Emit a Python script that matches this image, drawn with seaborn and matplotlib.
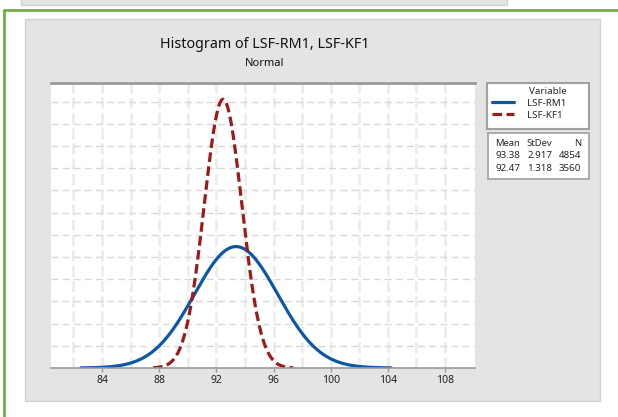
import numpy as np
import pandas as pd
import seaborn as sns
import matplotlib.pyplot as plt
from matplotlib.patches import Rectangle
from matplotlib.lines import Line2D

# Summary statistics shown in the chart
variables = ['LSF-RM1', 'LSF-KF1']
means = [93.38, 92.47]
stdevs = [2.917, 1.318]
counts = [4854, 3560]
colors = {'LSF-RM1': '#0c58a6', 'LSF-KF1': '#9b1a1a'}
xticks = [84, 88, 92, 96, 100, 104, 108]

# Fitted normal curves (Minitab draws about mean +/- 3.72 sd)
frames = []
for name, m, s in zip(variables, means, stdevs):
    xs = np.linspace(m - 3.72 * s, m + 3.72 * s, 400)
    dens = np.exp(-0.5 * ((xs - m) / s) ** 2) / (s * np.sqrt(2 * np.pi))
    frames.append(pd.DataFrame({'x': xs, 'density': dens, 'Variable': name}))
df = pd.concat(frames, ignore_index=True)

sns.set_theme(style='white')
plt.rcParams['font.family'] = ['Noto Sans', 'DejaVu Sans']

fig = plt.figure(figsize=(6.18, 4.17), dpi=100)
fig.patch.set_facecolor('white')

# document frame / panel background
W, H = 618, 417
fig.add_artist(Rectangle((21 / W, 1 - 5 / H), 486 / W, 0.05, transform=fig.transFigure,
                         facecolor='#e4e4e4', edgecolor='#d0d0d0', lw=1, zorder=-2))
fig.add_artist(Rectangle((25 / W, 1 - 401 / H), 575 / W, 382 / H, transform=fig.transFigure,
                         facecolor='#e4e4e4', edgecolor='#d2d2d2', lw=1, zorder=-2))
fig.add_artist(Line2D([4 / W, 1], [1 - 9.5 / H, 1 - 9.5 / H], transform=fig.transFigure,
                      color='#70ad47', lw=2, zorder=5))
fig.add_artist(Line2D([4 / W, 4 / W], [0, 1 - 9.5 / H], transform=fig.transFigure,
                      color='#70ad47', lw=2, zorder=5))

ax = fig.add_axes([51 / W, 1 - 368 / H, 424 / W, 285 / H])
ax.set_facecolor('white')

sns.lineplot(data=df, x='x', y='density', hue='Variable', style='Variable',
             palette=colors, dashes={'LSF-RM1': '', 'LSF-KF1': (3, 1.4)},
             estimator=None, sort=False, linewidth=2.3, ax=ax)

ax.set_xlim(80.43, 110.1)
ax.set_ylim(0, 0.321)
ax.set_xticks(xticks)
ax.set_xticks(np.arange(82, 110, 2), minor=True)
ax.set_yticks(np.arange(0.025, 0.301, 0.025))
ax.tick_params(axis='y', left=False, labelleft=False)
ax.tick_params(axis='x', which='major', bottom=True, length=3, width=1, color='#999999',
               labelsize=7.5, pad=2, labelcolor='#222222')
ax.tick_params(axis='x', which='minor', bottom=False)
ax.grid(axis='y', color='#d9d9d9', lw=1, ls=(0, (5, 3)))
ax.grid(axis='x', which='both', color='#ededed', lw=2, ls=(0, (4, 1.5)))
ax.set_axisbelow(True)
ax.set_xlabel('')
ax.set_ylabel('')
for side in ['left', 'right']:
    ax.spines[side].set_visible(False)
ax.spines['top'].set_color('#9a9a9a')
ax.spines['top'].set_linewidth(2)
ax.spines['bottom'].set_color('#9a9a9a')
ax.spines['bottom'].set_linewidth(1.2)

# titles
fig.text(265 / W, 1 - 44 / H, 'Histogram of LSF-RM1, LSF-KF1', ha='center', va='center',
         fontsize=10.3, color='#111111', fontweight='medium')
fig.text(265 / W, 1 - 64 / H, 'Normal', ha='center', va='center', fontsize=8,
         color='#111111', fontweight='medium')

# legend
handles, labels = ax.get_legend_handles_labels()
ax.get_legend().remove()
fig.add_artist(Rectangle((487 / W, 1 - 129 / H), 102 / W, 46 / H, transform=fig.transFigure,
                         facecolor='white', edgecolor='#a0a0a0', lw=1.5, zorder=3))
leg = fig.legend(handles, labels, title='Variable', loc='upper left',
                 bbox_to_anchor=(490 / W, 1 - 85 / H), frameon=False, fontsize=7,
                 title_fontsize=7, handlelength=2.3, handletextpad=1.3,
                 labelspacing=0.3, borderpad=0.2, borderaxespad=0, alignment='right')
leg.set_zorder(4)

# statistics table
fig.add_artist(Rectangle((488 / W, 1 - 179 / H), 101 / W, 46 / H, transform=fig.transFigure,
                         facecolor='white', edgecolor='#a0a0a0', lw=1.2, zorder=3))
col_x = [520 / W, 552 / W, 581 / W]
row_y = [1 - 143 / H, 1 - 156 / H, 1 - 169 / H]
for cx, head in zip(col_x, ['Mean', 'StDev', 'N']):
    fig.text(cx, row_y[0], head, ha='right', va='center', fontsize=6.8, zorder=4)
for ry, m, s, n in zip(row_y[1:], means, stdevs, counts):
    for cx, val in zip(col_x, [f'{m:.2f}', f'{s:.3f}', f'{n}']):
        fig.text(cx, ry, val, ha='right', va='center', fontsize=7, zorder=4)

fig.savefig('out.png', dpi=100)
